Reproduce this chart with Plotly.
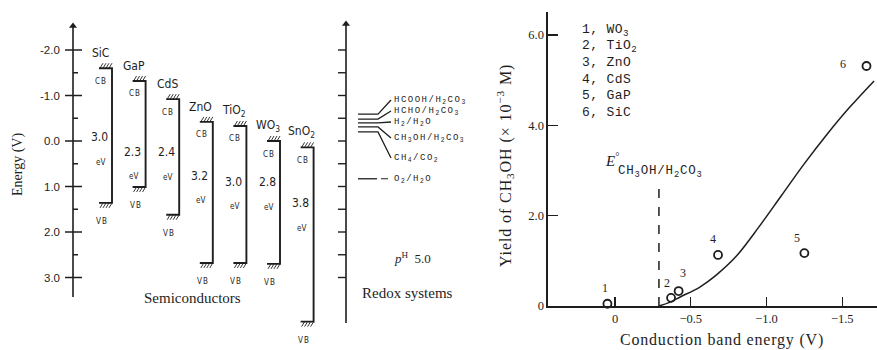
import plotly.graph_objects as go

W, H = 877, 350

# ---------------- data: left diagram ----------------
semis = ["SiC", "GaP", "CdS", "ZnO", "TiO<sub>2</sub>", "WO<sub>3</sub>", "SnO<sub>2</sub>"]
cb_E = [-1.60, -1.32, -0.92, -0.42, -0.33, 0.00, 0.14]
vb_E = [1.36, 1.01, 1.62, 2.68, 2.68, 2.70, 3.97]
gap_text = ["3.0", "2.3", "2.4", "3.2", "3.0", "2.8", "3.8"]

energy_ticks = [-2.0, -1.0, 0.0, 1.0, 2.0, 3.0]
energy_ticktext = ["-2.0", "-1.0", "0.0", "1.0", "2.0", "3.0"]
energy_minor = [-1.5, -0.5, 0.5, 1.5, 2.5]
redox_ticks = [-2.0, -1.5, -1.0, -0.5, 0.0, 0.5, 1.0, 1.5, 2.0, 2.5, 3.0]

redox_names = ["HCOOH/H<sub>2</sub>CO<sub>3</sub>", "HCHO/H<sub>2</sub>CO<sub>3</sub>",
               "H<sub>2</sub>/H<sub>2</sub>O", "CH<sub>3</sub>OH/H<sub>2</sub>CO<sub>3</sub>",
               "CH<sub>4</sub>/CO<sub>2</sub>", "O<sub>2</sub>/H<sub>2</sub>O"]
redox_E = [-0.59, -0.48, -0.40, -0.31, -0.20, 0.83]

# ---------------- data: right plot ----------------
point_names = ["WO<sub>3</sub>", "TiO<sub>2</sub>", "ZnO", "CdS", "GaP", "SiC"]
point_ids = ["1", "2", "3", "4", "5", "6"]
cb_energy = [0.05, -0.37, -0.42, -0.68, -1.25, -1.66]
yield_vals = [0.05, 0.18, 0.33, 1.13, 1.17, 5.31]
curve_x = [-0.29, -0.36, -0.43, -0.56, -0.67, -0.80, -0.95, -1.10, -1.25, -1.40, -1.55, -1.71]
curve_y = [0.00, 0.08, 0.20, 0.42, 0.69, 1.10, 1.75, 2.45, 3.15, 3.80, 4.40, 4.98]
E_ch3oh = -0.29
E_line_top = 2.63
x_ticks = [0, -0.5, -1.0, -1.5]
x_ticktext = ["0", "\u22120.5", "\u22121.0", "\u22121.5"]
y_ticks = [0, 2, 4, 6]
y_ticktext = ["0", "2.0", "4.0", "6.0"]

# ---------------- layout helpers ----------------
X0, DX = 112.0, 33.6     # pixel of first band, pixels per band slot
Y0, DY = 141.0, 45.5     # pixel of 0 V, pixels per volt
INK = "#1e1e1e"
SERIF = "Liberation Serif, Times New Roman, serif"
MONO = "Liberation Mono, Courier New, monospace"
HAND = "Liberation Sans Narrow, DejaVu Sans Condensed, Liberation Sans, sans-serif"


def dxp(p):
    return p / DX


def dyp(p):
    return p / DY


def ix(px):
    return (px - X0) / DX


def ey(py):
    return (py - Y0) / DY


def spaced(t, sp):
    return '<span style="letter-spacing:%spx">%s</span>' % (sp, t)


fig = go.Figure()
ann = []


def text(x, y, t, size, family=SERIF, xref="x", yref="y", xanchor="center",
         yanchor="middle", xshift=0, yshift=0, angle=0):
    ann.append(dict(x=x, y=y, text=t, xref=xref, yref=yref, showarrow=False,
                    xanchor=xanchor, yanchor=yanchor, xshift=xshift, yshift=yshift,
                    textangle=angle, font=dict(size=size, family=family, color=INK)))


def add_lines(xs, ys, width=1.6, dash=None, xa="x", ya="y"):
    fig.add_trace(go.Scatter(x=xs, y=ys, mode="lines", xaxis=xa, yaxis=ya,
                             line=dict(color=INK, width=width, dash=dash),
                             hoverinfo="skip", showlegend=False))


# ---------- energy axis ----------
ax_i = ix(73)
add_lines([ax_i, ax_i], [ey(297), ey(26)], 1.6)
fig.add_trace(go.Scatter(x=[ax_i], y=[ey(26)], mode="markers", marker=dict(symbol="triangle-up", size=7, color=INK),
                         hoverinfo="skip", showlegend=False))
xs, ys = [], []
for e in energy_ticks:
    xs += [ax_i - dxp(8), ax_i + dxp(9), None]
    ys += [e, e, None]
for e in energy_minor:
    xs += [ax_i, ax_i + dxp(5), None]
    ys += [e, e, None]
add_lines(xs, ys, 1.5)
for e, t in zip(energy_ticks, energy_ticktext):
    text(ax_i, e, t, 11.5, "Liberation Sans, sans-serif", xanchor="right", xshift=-11)

# ---------- bands ----------
gap_off = [69, 71, 53, 54, 56, 41, 56]
xs, ys, hx, hy = [], [], [], []
for k, (c, v) in enumerate(zip(cb_E, vb_E)):
    xs += [k - dxp(13), k, k, k - dxp(13), None]
    ys += [c, c, v, v, None]
    for off in [-12, -9, -6, -3]:
        hx += [k + dxp(off), k + dxp(off + 3), None]
        hy += [c, c - dyp(5), None]
        hx += [k + dxp(off), k + dxp(off + 3), None]
        hy += [v + dyp(5), v, None]
add_lines(xs, ys, 1.9)
add_lines(hx, hy, 0.9)
for k, (c, v) in enumerate(zip(cb_E, vb_E)):
    text(k - dxp(12), c - dyp(15), semis[k], 12, HAND)
    text(k - dxp(11), c + dyp(13), spaced("CB", 1), 8, HAND)
    g = c + dyp(gap_off[k])
    text(k - dxp(13), g, gap_text[k], 12, HAND)
    text(k - dxp(12), g + dyp(25), "eV", 8, HAND)
    text(k - dxp(10), v + dyp(19), spaced("VB", 1), 8, HAND)

# ---------- redox axis ----------
ri = ix(346)
add_lines([ri, ri], [ey(323), ey(24)], 1.6)
fig.add_trace(go.Scatter(x=[ri], y=[ey(24)], mode="markers", marker=dict(symbol="triangle-up", size=7, color=INK),
                         hoverinfo="skip", showlegend=False))
xs, ys = [], []
for e in redox_ticks:
    xs += [ri - dxp(8), ri, None]
    ys += [e, e, None]
add_lines(xs, ys, 1.4)

label_E = [ey(100), ey(111), ey(122), ey(138), ey(158), ey(179)]
xs, ys = [], []
for k in range(5):
    xs += [ri + dxp(12), ri + dxp(32), ri + dxp(45), None]
    ys += [redox_E[k], redox_E[k], label_E[k], None]
add_lines(xs, ys, 1.3)
add_lines([ri + dxp(12), ri + dxp(31)], [redox_E[5]] * 2, 1.3)
add_lines([ri + dxp(35), ri + dxp(42)], [redox_E[5]] * 2, 1.0)
for k in range(6):
    text(ri + dxp(46), label_E[k], spaced(redox_names[k], 1.5), 9, MONO, xanchor="left")

text(412 / W, 1 - 258 / H, "<i>p</i><sup>H</sup>  5.0", 13, SERIF, xref="paper", yref="paper")
text(407 / W, 1 - 293 / H, "Redox systems", 15, SERIF, xref="paper", yref="paper")
text(192 / W, 1 - 298 / H, "Semiconductors", 15, SERIF, xref="paper", yref="paper")
text(18 / W, 1 - 165 / H, "Energy (V)", 14, SERIF, xref="paper", yref="paper", angle=-90)

# ---------- right plot ----------
add_lines([E_ch3oh, E_ch3oh], [0, E_line_top], 1.5, dash="dash", xa="x2", ya="y2")
fig.add_trace(go.Scatter(x=curve_x, y=curve_y, mode="lines", xaxis="x2", yaxis="y2",
                         line=dict(color=INK, width=1.5, shape="spline", smoothing=1.0),
                         hoverinfo="skip", showlegend=False))
fig.add_trace(go.Scatter(x=cb_energy, y=yield_vals, mode="markers", xaxis="x2", yaxis="y2",
                         marker=dict(symbol="circle-open", size=8, color=INK, line=dict(width=1.8)),
                         cliponaxis=False, hoverinfo="skip", showlegend=False))
pt_shift = [(-2, 16), (-4, 15), (4, 18), (-5, 16), (-7, 15), (-23, 2)]
for k in range(6):
    text(cb_energy[k], yield_vals[k], point_ids[k], 12, SERIF, xref="x2", yref="y2",
         xshift=pt_shift[k][0], yshift=pt_shift[k][1])

for k in range(6):
    text(580 / W, 1 - (30 + 16.4 * k) / H, spaced(point_ids[k] + ", " + point_names[k], 0.4), 13, MONO,
         xref="paper", yref="paper", xanchor="left")

text(612 / W, 1 - 160 / H, "<i>E</i><sup>\u00b0</sup>", 15, SERIF, xref="paper", yref="paper")
text(616 / W, 1 - 172 / H, spaced("CH<sub>3</sub>OH/H<sub>2</sub>CO<sub>3</sub>", 0.8), 12.5, MONO,
     xref="paper", yref="paper", xanchor="left")

text(505 / W, 1 - 166 / H, spaced("Yield of CH<sub>3</sub>OH (\u00d7 10<sup>\u22123</sup> M)", 0.9), 16, SERIF,
     xref="paper", yref="paper", angle=-90)
text(722 / W, 1 - 340 / H, spaced("Conduction band energy (V)", 0.8), 16, SERIF, xref="paper", yref="paper")

fig.update_layout(
    width=W, height=H, autosize=False,
    margin=dict(l=0, r=0, t=0, b=0),
    paper_bgcolor="white", plot_bgcolor="rgba(0,0,0,0)",
    showlegend=False, hovermode=False,
    xaxis=dict(domain=[0, 1], range=[-X0 / DX, (W - X0) / DX], visible=False, fixedrange=True),
    yaxis=dict(domain=[0, 1], range=[(H - Y0) / DY, -Y0 / DY], visible=False, fixedrange=True),
    xaxis2=dict(domain=[548 / W, 1], range=[(615 - 548) / 151.5, (615 - W) / 151.5],
                anchor="y2", showline=True, linecolor=INK, linewidth=1.6,
                ticks="inside", ticklen=9, tickwidth=1.4, tickcolor=INK,
                tickvals=x_ticks, ticktext=x_ticktext, showgrid=False, zeroline=False,
                automargin=False, fixedrange=True, tickfont=dict(family=SERIF, size=12.5, color=INK)),
    yaxis2=dict(domain=[44 / H, 338 / H], range=[0, 294 / 45.2],
                anchor="x2", showline=True, linecolor=INK, linewidth=1.6,
                ticks="inside", ticklen=10, tickwidth=1.4, tickcolor=INK,
                tickvals=y_ticks, ticktext=y_ticktext, showgrid=False, zeroline=False,
                automargin=False, fixedrange=True, tickfont=dict(family=SERIF, size=12.5, color=INK)),
    annotations=ann,
)

fig.write_html("out.html", config={"displayModeBar": False, "staticPlot": True},
               post_script="document.body.style.margin='0';document.body.style.overflow='hidden';")
